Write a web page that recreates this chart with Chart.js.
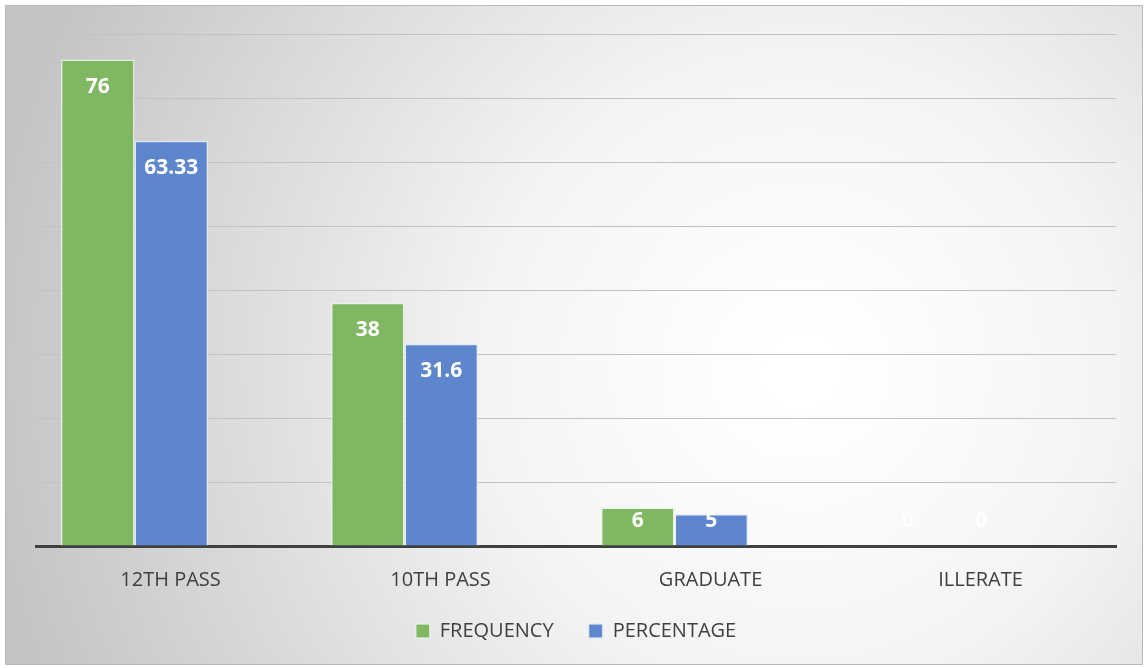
<!DOCTYPE html>
<html>
<head>
<meta charset="utf-8">
<script src="https://cdn.jsdelivr.net/npm/chart.js@4/dist/chart.umd.min.js"></script>
<style>
  html, body { margin: 0; padding: 0; background: #ffffff; }
  #wrap { width: 1146px; height: 668px; }
</style>
</head>
<body>
<div id="wrap"><canvas id="eduChart" width="1146" height="668"></canvas></div>
<script>
// datos del gráfico
const categorias = ['12TH PASS', '10TH PASS', 'GRADUATE', 'ILLERATE'];
const frecuencia = [76, 38, 6, 0];
const porcentaje = [63.33, 31.6, 5, 0];
const ejeMax = 80;
const ejePaso = 10;

const colores = {
    verde: '#80b762',
    azul: '#5e86cd',
    texto: '#404040'
};

// en el original las barras quedan corridas a la izquierda de su etiqueta
const corrimiento = 0.365;
const puntos = (serie) => serie.map((v, i) => ({ x: i, y: v }));

// fondo con degradado radial y marco gris
const fondoPlugin = {
    id: 'fondo',
    beforeDraw(chart) {
        const ctx = chart.ctx;
        const x0 = 5, y0 = 5, w = 1138, h = 660;
        ctx.save();
        const g = ctx.createRadialGradient(800, 370, 40, 800, 370, 820);
        g.addColorStop(0, '#ffffff');
        g.addColorStop(0.35, '#f4f4f4');
        g.addColorStop(1, '#c4c4c4');
        ctx.fillStyle = g;
        ctx.fillRect(x0, y0, w, h);
        ctx.strokeStyle = '#b8b8b8';
        ctx.lineWidth = 1;
        ctx.strokeRect(x0 + 0.5, y0 + 0.5, w - 1, h - 1);
        ctx.restore();
    }
};

// etiquetas blancas dentro de la barra
const etiquetasPlugin = {
    id: 'etiquetas',
    afterDatasetsDraw(chart) {
        const ctx = chart.ctx;
        const base = chart.scales.y.getPixelForValue(0);
        ctx.save();
        ctx.font = 'bold 21px "Open Sans", sans-serif';
        ctx.fillStyle = '#ffffff';
        ctx.textAlign = 'center';
        ctx.textBaseline = 'middle';
        chart.data.datasets.forEach((ds, i) => {
            chart.getDatasetMeta(i).data.forEach((bar, j) => {
                const y = Math.min(bar.y + 27, base - 25);
                ctx.fillText(String(ds.data[j].y), bar.x, y);
            });
        });
        ctx.restore();
    }
};

const ctx = document.getElementById('eduChart').getContext('2d');
new Chart(ctx, {
    type: 'bar',
    data: {
        datasets: [
            {
                label: 'FREQUENCY',
                data: puntos(frecuencia),
                backgroundColor: colores.verde,
                borderColor: 'rgba(235,245,230,0.8)',
                borderWidth: 1.5,
                categoryPercentage: 0.545,
                barPercentage: 1
            },
            {
                label: 'PERCENTAGE',
                data: puntos(porcentaje),
                backgroundColor: colores.azul,
                borderColor: 'rgba(225,235,250,0.8)',
                borderWidth: 1.5,
                categoryPercentage: 0.545,
                barPercentage: 1
            }
        ]
    },
    options: {
        responsive: false,
        animation: false,
        layout: { padding: { left: 36, right: 30, top: 34, bottom: 17 } },
        plugins: {
            legend: {
                position: 'bottom',
                labels: {
                    boxWidth: 14,
                    boxHeight: 14,
                    padding: 35,
                    color: colores.texto,
                    font: { family: '"Open Sans", sans-serif', size: 20 }
                }
            },
            tooltip: { enabled: false }
        },
        scales: {
            x: {
                type: 'linear',
                min: -corrimiento,
                max: categorias.length - corrimiento,
                offset: false,
                afterBuildTicks(scale) {
                    scale.ticks = categorias.map((_, i) => ({ value: i }));
                },
                grid: { display: false, drawTicks: false },
                border: { display: true, color: '#404040', width: 3 },
                ticks: {
                    color: colores.texto,
                    padding: 22,
                    labelOffset: 36,
                    maxRotation: 0,
                    autoSkip: false,
                    font: { family: '"Open Sans", sans-serif', size: 20 },
                    callback: (v) => categorias[v]
                },
                afterFit(scale) { scale.height = 40; }
            },
            y: {
                min: 0,
                max: ejeMax,
                ticks: { display: false, stepSize: ejePaso },
                grid: { color: '#c2c2c2', lineWidth: 1, drawTicks: false },
                border: { display: false }
            }
        }
    },
    plugins: [fondoPlugin, etiquetasPlugin]
});
</script>
</body>
</html>
